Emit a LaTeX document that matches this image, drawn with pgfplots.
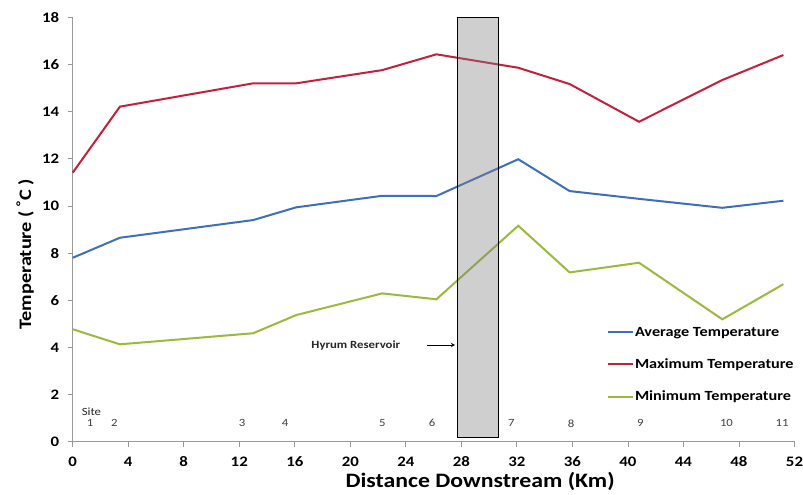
\documentclass[border=0pt]{standalone}
\usepackage{pgfplots}
\pgfplotsset{compat=1.18}
\usepackage{fontspec}
\setmainfont{Carlito}[FakeStretch=1.16]
\definecolor{avgc}{RGB}{62,110,190}
\definecolor{maxc}{RGB}{196,32,60}
\definecolor{minc}{RGB}{155,185,60}
\begin{document}
\begin{tikzpicture}
\useasboundingbox (-72.7pt,-53.3pt) rectangle (730.3pt,441.7pt);
\begin{axis}[
  at={(0pt,0pt)}, anchor=south west,
  scale only axis, width=721.8pt, height=424.4pt,
  xmin=0, xmax=52, ymin=0, ymax=18,
  axis x line=bottom, axis y line=left,
  axis line style={-, draw=gray!80, line width=0.8pt},
  xtick={0,4,...,52}, ytick={0,2,...,18},
  tick align=outside, major tick length=5pt,
  tick style={gray!80, line width=0.8pt},
  ticklabel style={font=\fontsize{14.5}{14.5}\selectfont\bfseries},
  xticklabel style={inner sep=0pt, yshift=-10pt},
  yticklabel style={xshift=-5pt},
  /pgf/number format/assume math mode=true,
  xlabel={Distance Downstream (Km)},
  xlabel style={at={(axis description cs:0.5645,0)}, anchor=base, inner sep=0pt, yshift=-45.3pt, font=\fontsize{20.5}{20.5}\selectfont\bfseries},
  ylabel={Temperature ( \textsuperscript{°}C )},
  ylabel style={at={(axis description cs:-0.066,0.441)}, anchor=center, font=\fontsize{17.5}{17.5}\selectfont\bfseries},
  legend style={draw=none, fill=none, at={(axis description cs:0.74,0.275)}, anchor=north west,
    font=\fontsize{14}{14}\selectfont\bfseries, row sep=17pt, inner sep=0pt, nodes={inner xsep=1pt}},
  legend cell align=left,
  legend image code/.code={\draw[#1, line width=2pt] (0pt,0pt) -- (25pt,0pt);},
  clip=false,
]
\addplot[avgc, line width=2pt] coordinates {
 (0,7.8) (3.4,8.65) (13.0,9.4) (16.1,9.94) (22.3,10.43) (26.2,10.42) (32.1,11.98) (35.8,10.63) (40.8,10.3) (46.8,9.92) (51.2,10.22)};
\addlegendentry{Average Temperature}
\addplot[maxc, line width=2pt] coordinates {
 (0,11.41) (3.4,14.21) (13.0,15.2) (16.1,15.2) (22.3,15.76) (26.2,16.43) (32.1,15.86) (35.8,15.17) (40.8,13.57) (46.8,15.34) (51.2,16.4)};
\addlegendentry{Maximum Temperature}
\addplot[minc, line width=2pt] coordinates {
 (0,4.77) (3.4,4.13) (13.0,4.6) (16.1,5.37) (22.3,6.29) (26.2,6.04) (32.1,9.16) (35.8,7.18) (40.8,7.59) (46.8,5.19) (51.2,6.68)};
\addlegendentry{Minimum Temperature}
\addplot[draw=black, line width=0.8pt, fill=gray, fill opacity=0.38, forget plot] coordinates {(27.7,0.2) (30.7,0.2) (30.7,18) (27.7,18)} -- cycle;
\draw[-stealth, line width=0.9pt] (axis cs:25.55,4.1) -- (axis cs:27.55,4.1);
\node[font=\fontsize{11}{11}\selectfont\bfseries, text=black!85] at (axis cs:20.4,4.1) {Hyrum Reservoir};
\node[font=\fontsize{11}{11}\selectfont, text=black!85] at (axis cs:1.35,1.27) {Site};
\node[font=\fontsize{11}{11}\selectfont, text=black!75] at (axis cs:1.25,0.78) {1};
\node[font=\fontsize{11}{11}\selectfont, text=black!75] at (axis cs:3.0,0.78) {2};
\node[font=\fontsize{11}{11}\selectfont, text=black!75] at (axis cs:12.2,0.78) {3};
\node[font=\fontsize{11}{11}\selectfont, text=black!75] at (axis cs:15.3,0.78) {4};
\node[font=\fontsize{11}{11}\selectfont, text=black!75] at (axis cs:22.3,0.78) {5};
\node[font=\fontsize{11}{11}\selectfont, text=black!75] at (axis cs:25.9,0.78) {6};
\node[font=\fontsize{11}{11}\selectfont, text=black!75] at (axis cs:31.6,0.78) {7};
\node[font=\fontsize{11}{11}\selectfont, text=black!75] at (axis cs:35.9,0.78) {8};
\node[font=\fontsize{11}{11}\selectfont, text=black!75] at (axis cs:40.9,0.78) {9};
\node[font=\fontsize{11}{11}\selectfont, text=black!75] at (axis cs:47.1,0.78) {10};
\node[font=\fontsize{11}{11}\selectfont, text=black!75] at (axis cs:51.1,0.78) {11};
\end{axis}
\end{tikzpicture}
\end{document}
